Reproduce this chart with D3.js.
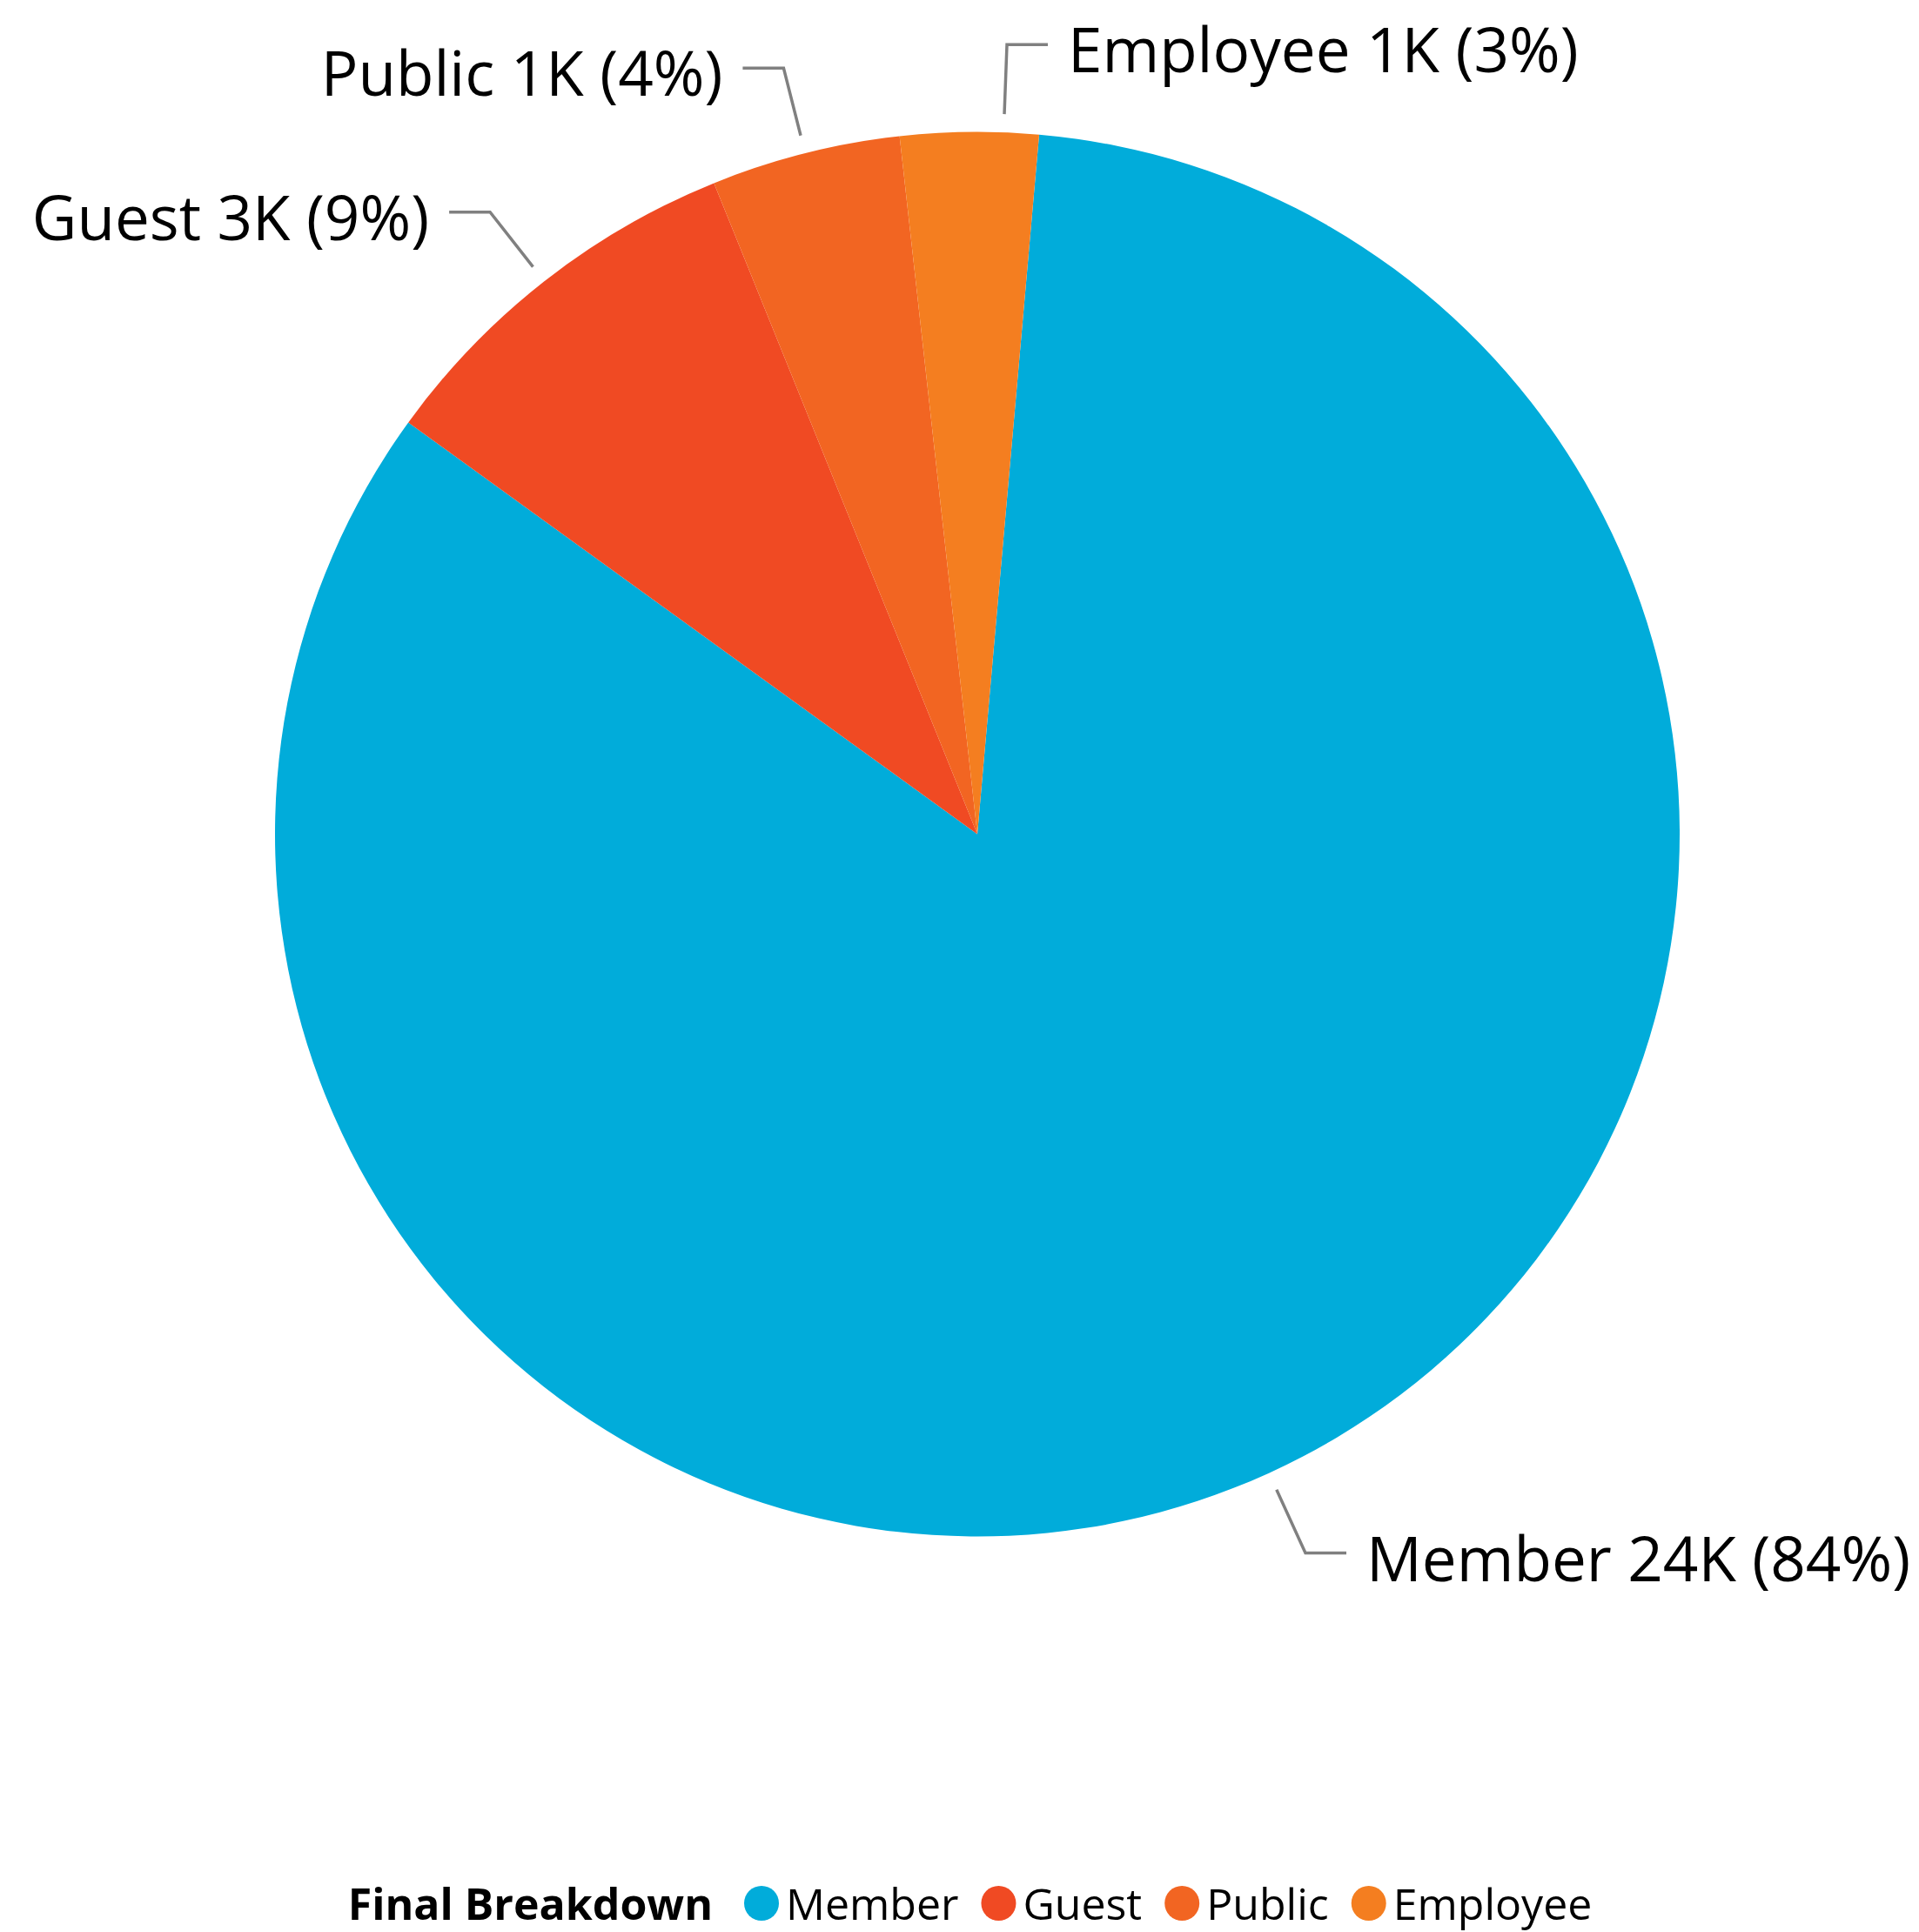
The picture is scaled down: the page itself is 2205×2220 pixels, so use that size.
<!DOCTYPE html>
<html>
<head>
<meta charset="utf-8">
<script src="https://cdn.jsdelivr.net/npm/d3@7"></script>
<style>
  html, body { margin: 0; padding: 0; background: #fff; }
  svg { display: block; }
  text { font-family: "Segoe UI", "Open Sans", "Noto Sans", sans-serif; }
</style>
</head>
<body>
<script>
// ---- data ----
const categories = ["Member", "Guest", "Public", "Employee"];
const values = [24000, 2560, 1250, 910];
const colors = ["#01ACDA", "#F04A23", "#F26522", "#F47E20"];
const legendTitle = "Final Breakdown";

// ---- layout ----
const W = 2205, H = 2220;
const cx = 1123, cy = 958.5, R = 807;
const deg = Math.PI / 180;
const startAngle = 5.05 * deg;
const labelNudge = { Employee: 2.8 * deg };

const svg = d3.select("body").append("svg")
  .attr("width", W).attr("height", H);

const data = categories.map((c, i) => ({ name: c, value: values[i], color: colors[i] }));
const total = d3.sum(values);

const pie = d3.pie().sort(null).value(d => d.value)
  .startAngle(startAngle).endAngle(startAngle + 2 * Math.PI);
const arcs = pie(data);
const arc = d3.arc().innerRadius(0).outerRadius(R);

const g = svg.append("g").attr("transform", `translate(${cx},${cy})`);
g.selectAll("path.slice").data(arcs).enter().append("path")
  .attr("class", "slice")
  .attr("d", arc)
  .attr("fill", d => d.data.color);

// ---- labels with leader lines ----
const polar = (r, a) => [r * Math.sin(a), -r * Math.cos(a)];
const fmtVal = v => Math.round(v / 1000) + "K";
const fmtPct = v => Math.round(v / total * 100) + "%";

arcs.forEach(d => {
  const a = (d.startAngle + d.endAngle) / 2 + (labelNudge[d.data.name] || 0);
  const side = Math.sin(a) >= 0 ? 1 : -1;
  const p1 = polar(R + 21, a);
  const p2 = polar(R + 101, a);
  const p3 = [p2[0] + side * 47, p2[1]];
  g.append("polyline")
    .attr("points", [p1, p2, p3].map(p => p.join(",")).join(" "))
    .attr("fill", "none")
    .attr("stroke", "#808080")
    .attr("stroke-width", 3.5);
  g.append("text")
    .attr("x", p3[0] + side * 23)
    .attr("y", p2[1] + 32)
    .attr("text-anchor", side > 0 ? "start" : "end")
    .attr("font-size", 71)
    .attr("fill", "#000")
    .text(`${d.data.name} ${fmtVal(d.data.value)} (${fmtPct(d.data.value)})`);
});

// ---- legend ----
const legY = 2187;
const leg = svg.append("g");
const title = leg.append("text")
  .attr("x", 0).attr("y", legY + 19)
  .attr("font-size", 50).attr("font-weight", "bold").attr("fill", "#000")
  .text(legendTitle);
let x = title.node().getComputedTextLength() + 36;
data.forEach(d => {
  leg.append("circle").attr("cx", x + 20).attr("cy", legY).attr("r", 20).attr("fill", d.color);
  const t = leg.append("text")
    .attr("x", x + 48).attr("y", legY + 19)
    .attr("font-size", 50).attr("fill", "#000")
    .text(d.name);
  x += 48 + t.node().getComputedTextLength() + 26;
});
const legW = x - 26;
leg.attr("transform", `translate(${(W - legW) / 2 + 12},0)`);
</script>
</body>
</html>
